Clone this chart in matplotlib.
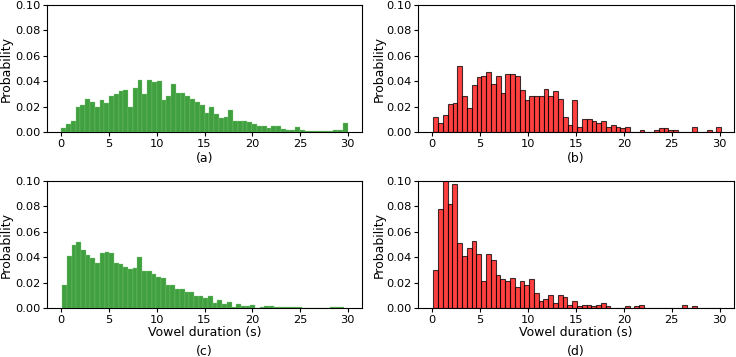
import numpy as np
import matplotlib
matplotlib.use("Agg")
import matplotlib.pyplot as plt

# Histogram bar heights (probability per bin), 60 bins each
prob_a = [0.003, 0.0065, 0.0084, 0.0196, 0.021, 0.026, 0.024, 0.0196, 0.025, 0.023,
          0.028, 0.030, 0.032, 0.033, 0.020, 0.035, 0.041, 0.030, 0.041, 0.039,
          0.040, 0.025, 0.028, 0.038, 0.031, 0.031, 0.028, 0.026, 0.024, 0.021,
          0.015, 0.020, 0.0144, 0.011, 0.012, 0.0175, 0.0084, 0.009, 0.009, 0.008,
          0.006, 0.005, 0.0047, 0.003, 0.0045, 0.005, 0.002, 0.0016, 0.0018, 0.0037,
          0.0018, 0.0005, 0.0005, 0.0005, 0.0005, 0.0005, 0.0005, 0.0013, 0.0013, 0.0068]
prob_b = [0.0118, 0.0073, 0.013, 0.022, 0.023, 0.0518, 0.028, 0.019, 0.037, 0.043,
          0.044, 0.047, 0.038, 0.044, 0.031, 0.0455, 0.0455, 0.044, 0.0327, 0.025,
          0.028, 0.028, 0.028, 0.034, 0.028, 0.0324, 0.026, 0.0118, 0.0058, 0.025,
          0.0042, 0.010, 0.010, 0.0086, 0.0073, 0.0086, 0.0042, 0.0058, 0.0042, 0.0029,
          0.0042, 0.0, 0.0, 0.0014, 0.0, 0.0, 0.0014, 0.0029, 0.0029, 0.0014,
          0.0014, 0.0, 0.0, 0.0, 0.0042, 0.0, 0.0, 0.0014, 0.0, 0.0042]
prob_c = [0.018, 0.041, 0.050, 0.0517, 0.046, 0.042, 0.039, 0.0355, 0.0433, 0.044,
          0.0433, 0.0355, 0.0347, 0.032, 0.031, 0.0315, 0.0405, 0.0295, 0.029, 0.0266,
          0.0245, 0.0237, 0.0178, 0.0178, 0.0151, 0.0151, 0.0123, 0.0128, 0.0097, 0.0097,
          0.0078, 0.0094, 0.0037, 0.0065, 0.0034, 0.005, 0.001, 0.0034, 0.0018, 0.0018,
          0.0023, 0.0003, 0.0008, 0.0013, 0.0016, 0.0005, 0.0005, 0.0005, 0.0005, 0.0005,
          0.0005, 0.0, 0.0, 0.0, 0.0, 0.0, 0.0, 0.0005, 0.0005, 0.0005]
prob_d = [0.0303, 0.0778, 0.1005, 0.082, 0.0974, 0.0514, 0.041, 0.0473, 0.053, 0.0426,
          0.0209, 0.0426, 0.0379, 0.0256, 0.0225, 0.0209, 0.024, 0.0164, 0.0209, 0.018,
          0.0225, 0.012, 0.0057, 0.0073, 0.0104, 0.0042, 0.0104, 0.0089, 0.0026, 0.0057,
          0.0013, 0.0026, 0.0026, 0.0013, 0.0026, 0.0042, 0.0013, 0.0, 0.0, 0.0,
          0.0013, 0.0, 0.0013, 0.0026, 0.0, 0.0, 0.0, 0.0, 0.0, 0.0,
          0.0, 0.0, 0.0026, 0.0, 0.0013, 0.0, 0.0, 0.0, 0.0, 0.0]

# data range (min, max) of each histogram
range_a = (0.0, 30.0)
range_b = (0.1, 30.17)
range_c = (0.1, 29.65)
range_d = (0.1, 30.1)

panel_labels = ["(a)", "(b)", "(c)", "(d)"]
xlabel_text = "Vowel duration (s)"
ylabel_text = "Probability"

plt.rcParams['font.family'] = ['DejaVu Sans']
plt.rcParams['font.size'] = 9

fig = plt.figure(figsize=(7.36, 3.57), dpi=100)
W, H = 736, 357

def add_axes(x0, y0, x1, y1):
    return fig.add_axes([x0 / W, 1 - y1 / H, (x1 - x0) / W, (y1 - y0) / H])

axs = [add_axes(47, 5, 362, 132), add_axes(418, 5, 734, 132),
       add_axes(47, 181, 362, 308), add_axes(418, 181, 734, 308)]

data = [(prob_a, range_a, 'green', None), (prob_b, range_b, 'red', 'black'),
        (prob_c, range_c, 'green', None), (prob_d, range_d, 'red', 'black')]

for i, (ax, (vals, rng, col, ec)) in enumerate(zip(axs, data)):
    edges = np.linspace(rng[0], rng[1], len(vals) + 1)
    if ec is None:
        ax.hist(edges[:-1], bins=edges, weights=vals, color=col, alpha=0.75,
                edgecolor=(0.55, 0.8, 0.5), linewidth=0.3)
    else:
        ax.hist(edges[:-1], bins=edges, weights=vals, color=col, alpha=0.75,
                edgecolor=ec, linewidth=0.8)
    ax.set_xlim(-1.5, 31.5)
    ax.set_ylim(0, 0.1)
    ax.set_xticks([0, 5, 10, 15, 20, 25, 30])
    ax.set_yticks([0.0, 0.02, 0.04, 0.06, 0.08, 0.10])
    ax.set_yticklabels(["0.00", "0.02", "0.04", "0.06", "0.08", "0.10"])
    ax.tick_params(labelsize=8.2, length=3, pad=1.8)
    ax.set_ylabel(ylabel_text, fontsize=9)
    ax.yaxis.set_label_coords(-0.108 if i % 2 == 0 else -0.101, 0.5)
    if i < 2:
        ax.set_xlabel(panel_labels[i], fontsize=9)
        ax.xaxis.set_label_coords(0.5, -0.155)
    else:
        ax.set_xlabel(xlabel_text, fontsize=9)
        ax.xaxis.set_label_coords(0.5, -0.145)
        ax.text(0.5, -0.29, panel_labels[i], transform=ax.transAxes,
                ha='center', va='top', fontsize=9)

fig.savefig("out.png", dpi=100)
